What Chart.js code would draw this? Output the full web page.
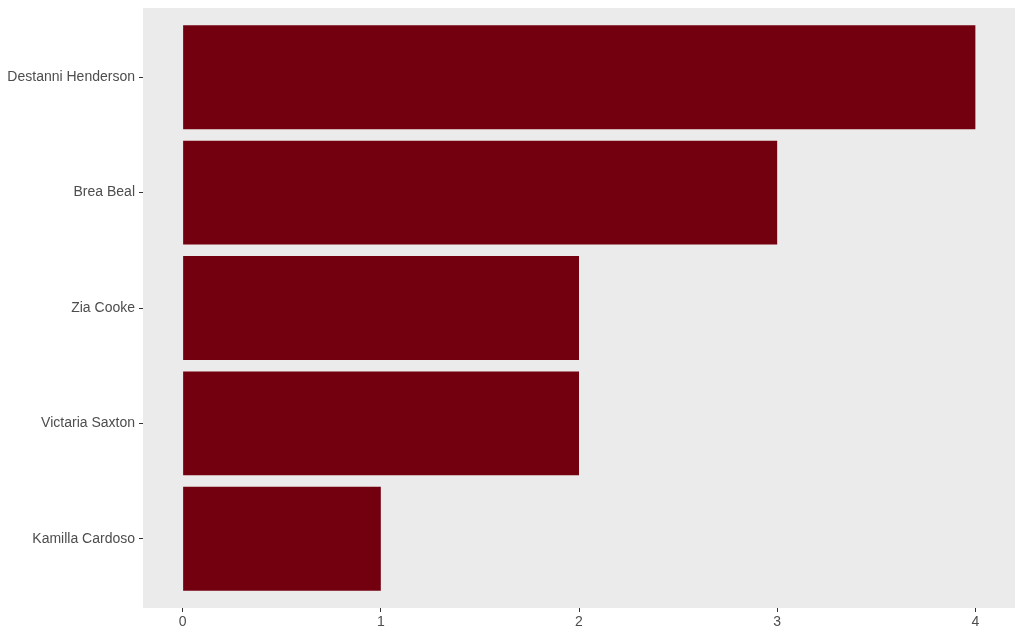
<!DOCTYPE html>
<html lang="en">
<head>
  <meta charset="UTF-8">
  <title>Player Bars</title>
  <style>
    html, body { margin: 0; padding: 0; background: #ffffff; }
    #chartContainer { position: relative; width: 1024px; height: 639px; }
  </style>
  <script src="https://cdn.jsdelivr.net/npm/chart.js"></script>
</head>
<body>
  <div id="chartContainer">
    <canvas id="chartCanvas"></canvas>
  </div>
  <script>
    // Data, top to bottom as shown
    const players = ['Destanni Henderson', 'Brea Beal', 'Zia Cooke', 'Victaria Saxton', 'Kamilla Cardoso'];
    const counts = [4, 3, 2, 2, 1];
    const xTicks = [0, 1, 2, 3, 4];

    const barColor = '#73000F';
    const textColor = '#4D4D4D';

    // grey panel behind the plot area, ggplot style
    const panelBg = {
      id: 'panelBg',
      beforeDraw(chart) {
        const { ctx, chartArea: a } = chart;
        ctx.save();
        ctx.fillStyle = '#EBEBEB';
        ctx.fillRect(a.left, a.top, a.right - a.left, a.bottom - a.top);
        ctx.restore();
      }
    };

    const ctx = document.getElementById('chartCanvas').getContext('2d');
    new Chart(ctx, {
      type: 'bar',
      data: {
        datasets: [{
          data: counts.map((c, i) => ({ x: c, y: i + 1 })),
          backgroundColor: barColor,
          borderWidth: 0,
          barPercentage: 0.9,
          categoryPercentage: 1
        }]
      },
      plugins: [panelBg],
      options: {
        indexAxis: 'y',
        responsive: true,
        maintainAspectRatio: false,
        animation: false,
        layout: { padding: { top: 8, right: 9, left: 0, bottom: 0 } },
        plugins: {
          legend: { display: false },
          tooltip: { enabled: false }
        },
        scales: {
          x: {
            type: 'linear',
            min: -0.2,
            max: 4.2,
            afterBuildTicks: s => { s.ticks = xTicks.map(v => ({ value: v })); },
            afterFit: s => { s.height = 31; s.paddingLeft = 0; s.paddingRight = 0; },
            border: { display: false },
            grid: { drawOnChartArea: false, drawTicks: true, tickLength: 4, tickColor: '#333333', lineWidth: 1 },
            ticks: { color: textColor, font: { family: 'Liberation Sans, Arial', size: 14 }, padding: 2, maxRotation: 0 }
          },
          y: {
            type: 'linear',
            min: 0.4,
            max: 5.6,
            reverse: true,
            offset: false,
            afterBuildTicks: s => { s.ticks = players.map((p, i) => ({ value: i + 1 })); },
            afterFit: s => { s.width = 143; s.paddingTop = 0; s.paddingBottom = 0; },
            border: { display: false },
            grid: { offset: false, drawOnChartArea: false, drawTicks: true, tickLength: 4, tickColor: '#333333', lineWidth: 1 },
            ticks: {
              color: textColor,
              font: { family: 'Liberation Sans, Arial', size: 14 },
              padding: 4,
              callback: v => players[v - 1]
            }
          }
        }
      }
    });
  </script>
</body>
</html>
